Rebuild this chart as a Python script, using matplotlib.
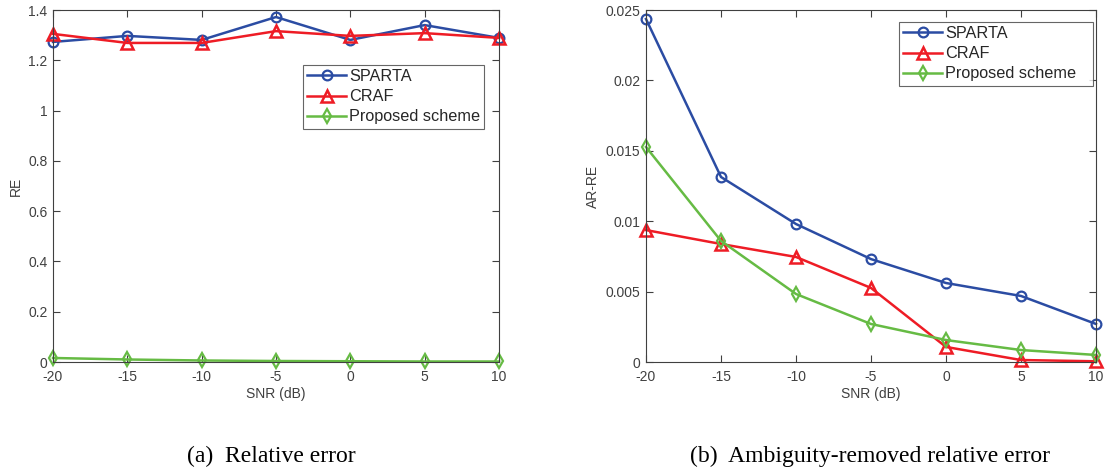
import matplotlib
matplotlib.use("Agg")
import matplotlib.pyplot as plt

snr = [-20, -15, -10, -5, 0, 5, 10]

re_sparta = [1.273, 1.297, 1.281, 1.372, 1.281, 1.340, 1.289]
re_craf = [1.305, 1.269, 1.269, 1.316, 1.297, 1.308, 1.289]
re_prop = [0.016, 0.010, 0.006, 0.004, 0.003, 0.002, 0.002]

ar_sparta = [0.02436, 0.01314, 0.0098, 0.00731, 0.00561, 0.00469, 0.0027]
ar_craf = [0.00937, 0.00838, 0.00746, 0.00526, 0.00107, 0.00014, 0.00005]
ar_prop = [0.01527, 0.0086, 0.00483, 0.0027, 0.00156, 0.00085, 0.0005]

labels = ["SPARTA", "CRAF", "Proposed scheme"]
captions = ["(a)  Relative error", "(b)  Ambiguity-removed relative error"]

blue = "#2b4ca3"
red = "#ee1c25"
green = "#66bb44"
axc = "#404040"

plt.rcParams['font.family'] = ['Liberation Sans', 'DejaVu Sans']

W, H = 1105, 475
fig = plt.figure(figsize=(W/100, H/100), dpi=100)
ax1 = fig.add_axes([53/W, 1-362/H, 446/W, 352/H])
ax2 = fig.add_axes([646/W, 1-362/H, 450/W, 352/H])

def style(ax):
    for s in ax.spines.values():
        s.set_color(axc)
        s.set_linewidth(0.8)
    ax.tick_params(direction='in', top=True, right=True, colors=axc,
                   labelsize=10, length=5, width=0.8, pad=4)
    ax.tick_params(axis='x', pad=6)
    ax.set_xlim(-20, 10)
    ax.set_xticks(snr)
    ax.set_xticklabels([str(v) for v in snr])
    ax.set_xlabel("SNR (dB)", fontsize=10, color=axc, labelpad=2)

def plot_series(ax, a, b, c):
    ax.plot(snr, a, color=blue, lw=1.8, marker='o', ms=7, mfc='none', mew=1.6, label=labels[0], clip_on=False)
    ax.plot(snr, b, color=red, lw=1.8, marker='^', ms=8, mfc='none', mew=1.8, label=labels[1], clip_on=False)
    ax.plot(snr, c, color=green, lw=1.8, marker='d', ms=7, mfc='none', mew=1.6, label=labels[2], clip_on=False)

def legend(ax, x0, y0, x1, y1):
    leg = ax.legend(loc='upper left', bbox_to_anchor=(x0/W, 1-y1/H, (x1-x0)/W, (y1-y0)/H),
                    bbox_transform=fig.transFigure, mode='expand',
                    fontsize=11.7, frameon=True, fancybox=False, edgecolor=axc, borderpad=0.25,
                    handlelength=2.4, handletextpad=0.2, labelspacing=0.32, borderaxespad=0)
    leg.get_frame().set_linewidth(0.8)
    for t in leg.get_texts():
        t.set_color('#262626')
    return leg

plot_series(ax1, re_sparta, re_craf, re_prop)
style(ax1)
ax1.set_ylim(0, 1.4)
ax1.set_yticks([0, 0.2, 0.4, 0.6, 0.8, 1.0, 1.2, 1.4])
ax1.set_yticklabels(["0", "0.2", "0.4", "0.6", "0.8", "1", "1.2", "1.4"])
ax1.set_ylabel("RE", fontsize=10, color=axc, labelpad=4)
legend(ax1, 303, 65, 484, 135)

plot_series(ax2, ar_sparta, ar_craf, ar_prop)
style(ax2)
ax2.set_ylim(0, 0.025)
ax2.set_yticks([0, 0.005, 0.01, 0.015, 0.02, 0.025])
ax2.set_yticklabels(["0", "0.005", "0.01", "0.015", "0.02", "0.025"])
ax2.set_ylabel("AR-RE", fontsize=10, color=axc, labelpad=4)
legend(ax2, 899, 22, 1093, 91)

fig.text(271/W, 1-456/H, captions[0], ha='center', va='center', fontsize=17,
         family=['Liberation Serif', 'DejaVu Serif'])
fig.text(870/W, 1-456/H, captions[1], ha='center', va='center', fontsize=17,
         family=['Liberation Serif', 'DejaVu Serif'])

fig.savefig("out.png", dpi=100)
